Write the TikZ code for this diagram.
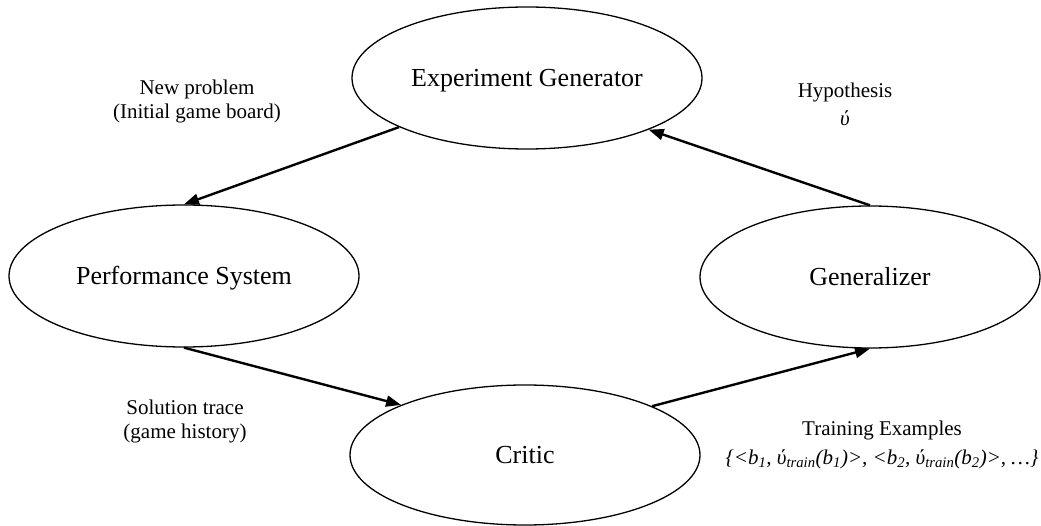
\documentclass[tikz,border=0pt]{standalone}
\usepackage{fontspec}
\setmainfont{Liberation Serif}
\usetikzlibrary{arrows.meta,shapes.geometric}
\begin{document}
\begin{tikzpicture}[x=1pt,y=-1pt,
  state/.style={ellipse,draw,line width=1.3pt,inner sep=0pt,text height=17pt,text depth=0pt,font=\fontsize{26}{30}\selectfont},
  lbl/.style={align=center,font=\fontsize{21}{24}\selectfont,inner sep=0pt},
  flow/.style={line width=2.4pt,-{Triangle[length=15pt,width=11pt]}}]
\useasboundingbox (0,0) rectangle (1041,526);
\node[state,minimum width=350pt,minimum height=142pt] (eg) at (527,78) {Experiment Generator};
\node[state,minimum width=350pt,minimum height=142pt] (ps) at (184,276) {Performance System};
\node[state,minimum width=340pt,minimum height=142pt] (gen) at (870,277) {Generalizer};
\node[state,minimum width=350pt,minimum height=140pt] (cr) at (525,455) {Critic};
\node[lbl] (l1) at (197,101) {New problem\\(Initial game board)};
\node[lbl] (l2) at (185,421) {Solution trace\\(game history)};
\node[lbl] (l3) at (845,104) {Hypothesis\\[4pt]\textit{ύ}};
\node[lbl] (l4) at (882,445) {Training Examples\\[5pt]\textit{\{<b\textsubscript{1}, ύ\textsubscript{train}(b\textsubscript{1})>, <b\textsubscript{2}, ύ\textsubscript{train}(b\textsubscript{2})>, …\}}};
\draw[flow] (eg.201.8) -- (ps.north);
\draw[flow] (ps.south) -- (cr.158.3);
\draw[flow] (cr.21.7) -- (gen.south);
\draw[flow] (gen.north) -- (eg.337.9);
\end{tikzpicture}
\end{document}
